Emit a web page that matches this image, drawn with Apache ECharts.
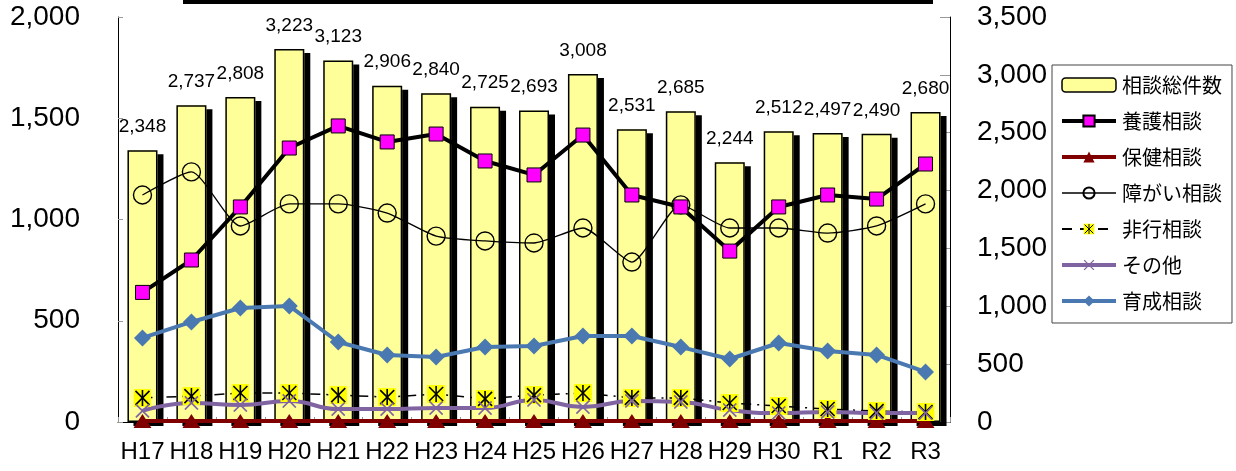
<!DOCTYPE html>
<html><head><meta charset="utf-8">
<script src="https://cdn.jsdelivr.net/npm/echarts@6/dist/echarts.min.js"></script>
<style>html,body{margin:0;padding:0;background:#fff}#c{width:1236px;height:471px}</style>
</head><body><div id="c"></div>
<script>
const categories = ['H17','H18','H19','H20','H21','H22','H23','H24','H25','H26','H27','H28','H29','H30','R1','R2','R3'];
const totalCases = [2348,2737,2808,3223,3123,2906,2840,2725,2693,3008,2531,2685,2244,2512,2497,2490,2680];
const yougo   = [640,800,1062,1353,1462,1383,1422,1289,1220,1417,1121,1062,844,1062,1121,1101,1274];
const hoken   = [5,5,5,5,5,5,5,5,5,5,5,5,5,5,5,5,5];
const shogai  = [1121,1235,968,1077,1077,1032,918,894,884,958,790,1072,958,958,933,968,1077];
const hikou   = [119,128,143,143,133,123,138,114,133,143,119,119,94,79,64,54,49];
const sonota  = [55,94,84,104,64,64,69,69,109,74,104,99,59,44,49,44,44];
const ikusei  = [415,494,563,573,395,331,321,370,375,425,425,370,311,390,351,331,247];
const leftTicks = [0,500,1000,1500,2000];
const rightTicks = [0,500,1000,1500,2000,2500,3000,3500];

const FONT = '"Liberation Sans", "Noto Sans CJK JP", sans-serif';
const fmt = v => Number(v).toLocaleString('en-US');
const svgUrl = s => 'image://data:image/svg+xml;charset=utf-8,' + encodeURIComponent(s);
const asterisk = svgUrl('<svg xmlns="http://www.w3.org/2000/svg" width="18" height="18" viewBox="0 0 18 18"><rect x="0" y="0" width="18" height="18" fill="#ffff00"/><g stroke="#000" stroke-width="1.6"><line x1="9" y1="1" x2="9" y2="17"/><line x1="2" y1="2" x2="16" y2="16"/><line x1="16" y1="2" x2="2" y2="16"/></g></svg>');
const xMark = svgUrl('<svg xmlns="http://www.w3.org/2000/svg" width="16" height="16" viewBox="0 0 16 16"><g stroke="#8064A2" stroke-width="1.8"><line x1="1" y1="1" x2="15" y2="15"/><line x1="15" y1="1" x2="1" y2="15"/></g></svg>');

const chart = echarts.init(document.getElementById('c'));
chart.setOption({
  animation: false,
  textStyle: { fontFamily: FONT },
  graphic: [{ type: 'rect', shape: { x: 183, y: 0, width: 750, height: 4 }, style: { fill: '#000' } }],
  grid: { left: 118, right: 286, top: 17, bottom: 49 },
  legend: {
    orient: 'vertical', left: 1052, top: 65,
    padding: [10, 10, 12, 8],
    borderColor: '#444', borderWidth: 1,
    itemWidth: 54, itemHeight: 14, itemGap: 16,
    textStyle: { fontSize: 20, color: '#000', fontFamily: '"Noto Sans CJK JP", sans-serif', padding: [0,0,0,1] },
    data: [
      { name: '相談総件数', itemStyle: { color: '#FFFF99', borderColor: '#000', borderWidth: 1.5, shadowBlur: 0, shadowOffsetX: 0, shadowOffsetY: 0, shadowColor: 'transparent' } },
      { name: '養護相談', lineStyle: { width: 4 } },
      { name: '保健相談', lineStyle: { width: 4 } },
      { name: '障がい相談', lineStyle: { width: 1.5 } },
      { name: '非行相談', lineStyle: { width: 2, type: [10, 8] } },
      { name: 'その他', lineStyle: { width: 4 } },
      { name: '育成相談', lineStyle: { width: 4 } }
    ]
  },
  xAxis: {
    type: 'category', data: categories, boundaryGap: true,
    axisLine: { lineStyle: { color: '#000', width: 1 } },
    axisTick: { show: true, inside: true, length: 5, lineStyle: { color: '#999' } },
    axisLabel: { interval: 0, fontSize: 24, color: '#000', margin: 18, fontFamily: FONT }
  },
  yAxis: [
    { type: 'value', min: 0, max: 2000, interval: 500, position: 'left',
      splitLine: { show: false },
      axisLine: { show: true, lineStyle: { color: '#000' } },
      axisTick: { show: true, inside: true, length: 5, lineStyle: { color: '#999' } },
      axisLabel: { fontSize: 28, color: '#000', margin: 38, formatter: fmt, fontFamily: FONT } },
    { type: 'value', min: 0, max: 3500, interval: 500, position: 'right',
      splitLine: { show: false },
      axisLine: { show: true, lineStyle: { color: '#000' } },
      axisTick: { show: true, inside: true, length: 10, lineStyle: { color: '#999' } },
      axisLabel: { fontSize: 28, color: '#000', margin: 27, formatter: fmt, fontFamily: FONT } }
  ],
  series: [
    { name: '相談総件数', type: 'bar', yAxisIndex: 1, data: totalCases, barWidth: 30, z: 1,
      itemStyle: { color: '#FFFF99', borderWidth: 0,
        shadowColor: '#000', shadowBlur: 0, shadowOffsetX: 6, shadowOffsetY: 4 },
      label: { show: true, position: 'top', distance: 14, fontSize: 19, color: '#000',
        formatter: p => fmt(p.value), fontFamily: FONT } },
    { name: '相談総件数-outline', type: 'bar', yAxisIndex: 1, data: totalCases, barWidth: 30, barGap: '-100%', z: 2,
      itemStyle: { color: 'rgba(0,0,0,0)', borderColor: '#000', borderWidth: 1.5 },
      silent: true, label: { show: false } },
    { name: '養護相談', type: 'line', data: yougo, z: 6, symbol: 'rect', symbolSize: 14,
      lineStyle: { color: '#000', width: 4 },
      itemStyle: { color: '#FF00FF', borderColor: '#000', borderWidth: 1 } },
    { name: '保健相談', type: 'line', data: hoken, z: 3, symbol: 'triangle', symbolSize: [18, 14],
      lineStyle: { color: '#800000', width: 4 },
      itemStyle: { color: '#800000' } },
    { name: '障がい相談', type: 'line', data: shogai, z: 5, symbol: 'circle', symbolSize: 18, smooth: 0.2,
      lineStyle: { color: '#000', width: 1.3 },
      itemStyle: { color: 'rgba(0,0,0,0)', borderColor: '#000', borderWidth: 1.4 } },
    { name: '非行相談', type: 'line', data: hikou, z: 4, symbol: asterisk, symbolSize: 18,
      lineStyle: { color: '#000', width: 1.5, type: [10, 6, 2, 6] },
      itemStyle: { color: '#000' } },
    { name: 'その他', type: 'line', data: sonota, z: 4, symbol: xMark, symbolSize: 15, smooth: true,
      lineStyle: { color: '#8064A2', width: 4 },
      itemStyle: { color: '#8064A2' } },
    { name: '育成相談', type: 'line', data: ikusei, z: 5, symbol: 'diamond', symbolSize: 17,
      lineStyle: { color: '#4A78B0', width: 4 },
      itemStyle: { color: '#4A78B0' } }
  ]
});
</script></body></html>
